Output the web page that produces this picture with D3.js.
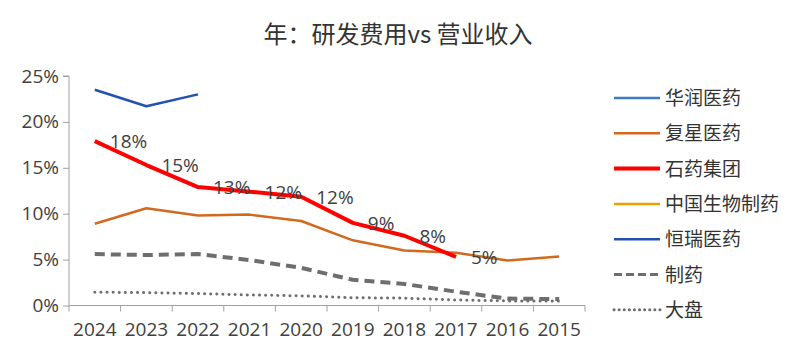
<!DOCTYPE html>
<html><head><meta charset="utf-8">
<script src="https://cdn.jsdelivr.net/npm/d3@7"></script>
<style>body{margin:0;background:#fff}svg{display:block}</style>
</head><body><svg id="c" width="800" height="355"></svg>
<script>
const years = ["2024","2023","2022","2021","2020","2019","2018","2017","2016","2015"];
const yTicks = [0,5,10,15,20,25];
const huarun = [null,null,null,null,null,null,null,null,null,null];
const fosun = [8.9,10.6,9.8,9.9,9.2,7.1,6.0,5.75,4.9,5.35];
const cspc = [17.9,15.3,12.9,12.4,11.85,9.0,7.6,5.3,null,null];
const cspcLabels = ["18%","15%","13%","12%","12%","9%","8%","5%",null,null];
const sinoBio = [null,null,null,null,null,null,null,null,null,null];
const hengrui = [23.5,21.7,23.0,null,null,null,null,null,null,null];
const pharma = [5.6,5.5,5.6,4.95,4.1,2.8,2.35,1.5,0.75,0.7];
const market = [1.45,1.4,1.3,1.15,1.05,0.85,0.8,0.6,0.5,0.5];

const series = [
  {name:"华润医药", data:huarun, color:"#3b7cc4", w:2.5, dash:null},
  {name:"复星医药", data:fosun, color:"#d2691e", w:2.5, dash:null},
  {name:"石药集团", data:cspc, color:"#ff0000", w:4, dash:null},
  {name:"中国生物制药", data:sinoBio, color:"#e8a200", w:2.5, dash:null},
  {name:"恒瑞医药", data:hengrui, color:"#2152b0", w:2.5, dash:null},
  {name:"制药", data:pharma, color:"#6e6e6e", w:4, dash:"10,6"},
  {name:"大盘", data:market, color:"#6e6e6e", w:3, dash:"0.1,6", cap:"round"}
];

const svg = d3.select("#c");
const font = "'Open Sans','Noto Sans CJK SC',sans-serif";
const L=69, R=585, T=76, B=305.5;
const x = d3.scaleBand().domain(years).range([L,R]);
const y = d3.scaleLinear().domain([0,25]).range([B,T]);

svg.append("text").attr("x",398).attr("y",43).attr("text-anchor","middle")
  .attr("font-family","'Noto Sans CJK SC',sans-serif").attr("font-size",24).attr("fill","#333")
  .text("年：研发费用vs 营业收入");

// y axis
const ya = svg.append("g").attr("transform",`translate(${L},0)`)
  .call(d3.axisLeft(y).tickValues(yTicks).tickFormat(d=>d+"%").tickSize(6).tickPadding(4));
ya.select(".domain").attr("stroke","#a0a0a0").attr("d",`M-6,${y(25)}H0V${y(0)}`);
ya.selectAll(".tick line").attr("stroke","#a0a0a0");
ya.selectAll("text").attr("font-family",font).attr("font-size",19).attr("fill","#404040");

// x axis
const xa = svg.append("g").attr("transform",`translate(0,${B})`)
  .call(d3.axisBottom(x).tickSize(0).tickPadding(17));
xa.select(".domain").attr("stroke","#a0a0a0").attr("d",`M${L},0H${R}`);
xa.selectAll("text").attr("font-family",font).attr("font-size",19).attr("fill","#404040");
const bounds = years.map(d=>x(d)).concat([R]);
xa.selectAll(".bt").data(bounds).enter().append("line").attr("class","bt")
  .attr("x1",d=>d).attr("x2",d=>d).attr("y1",0).attr("y2",6).attr("stroke","#a0a0a0");

const line = d3.line().defined(d=>d.v!=null).x(d=>x(d.k)+x.bandwidth()/2).y(d=>y(d.v));
const drawOrder = [5,6,1,4,0,3,2];
drawOrder.forEach(i=>{
  const s = series[i];
  const pts = years.map((k,j)=>({k,v:s.data[j]}));
  svg.append("path").datum(pts).attr("d",line).attr("fill","none")
    .attr("stroke",s.color).attr("stroke-width",s.w)
    .attr("stroke-dasharray",s.dash).attr("stroke-linecap",s.cap||"butt")
    .attr("stroke-linejoin","round");
});

// labels for 石药集团
svg.selectAll(".lbl").data(years.map((k,j)=>({k,v:cspc[j],t:cspcLabels[j]})).filter(d=>d.t))
  .enter().append("text").attr("x",d=>x(d.k)+x.bandwidth()/2+15).attr("y",d=>y(d.v)+7)
  .attr("font-family",font).attr("font-size",19).attr("fill","#404040").text(d=>d.t);

// legend
const lg = svg.append("g");
series.forEach((s,i)=>{
  const yy = 98 + i*35.3;
  lg.append("line").attr("x1",614).attr("x2",660).attr("y1",yy).attr("y2",yy)
    .attr("stroke",s.color).attr("stroke-width",s.w===4&&!s.dash?4:(s.dash?3:2.5))
    .attr("stroke-dasharray",s.dash?(i===5?"8,4":"0.1,5"):null).attr("stroke-linecap",s.cap||"butt");
  lg.append("text").attr("x",665).attr("y",yy+7).attr("font-family","'Noto Sans CJK SC',sans-serif")
    .attr("font-size",19).attr("fill","#333").text(s.name);
});
</script></body></html>
